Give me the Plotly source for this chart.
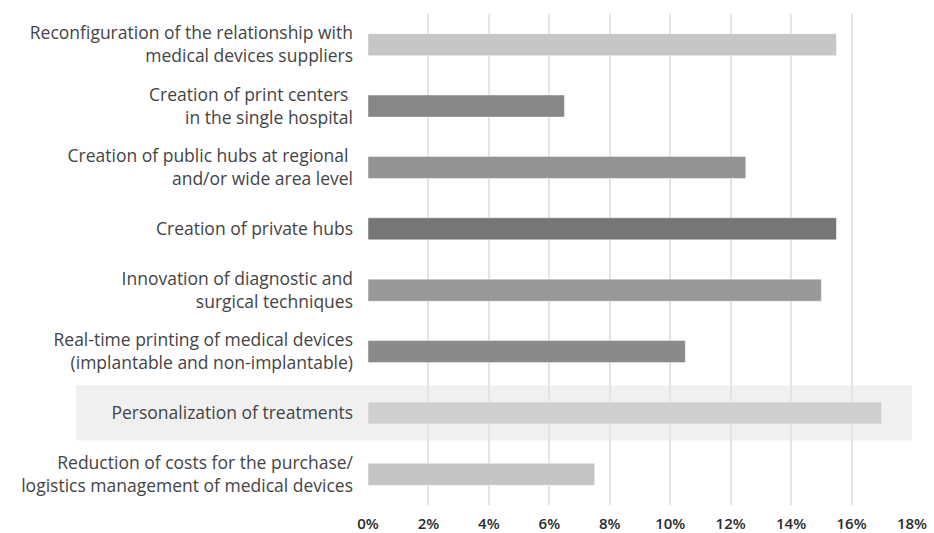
import plotly.graph_objects as go

categories = [
    "Reconfiguration of the relationship with<br>medical devices suppliers",
    "Creation of print centers <br>in the single hospital",
    "Creation of public hubs at regional <br>and/or wide area level",
    "Creation of private hubs",
    "Innovation of diagnostic and<br>surgical techniques",
    "Real-time printing of medical devices<br>(implantable and non-implantable)",
    "Personalization of treatments",
    "Reduction of costs for the purchase/<br>logistics management of medical devices",
]
values = [15.5, 6.5, 12.5, 15.5, 15.0, 10.5, 17.0, 7.5]
bar_colors = ["#c6c6c6", "#878787", "#939393", "#767676",
              "#999999", "#8a8a8a", "#cfcfcf", "#c4c4c4"]
highlight = "Personalization of treatments"
tick_vals = [0, 2, 4, 6, 8, 10, 12, 14, 16, 18]
tick_text = [f"{v}%" for v in tick_vals]

fig = go.Figure(go.Bar(
    x=values,
    y=categories,
    orientation="h",
    width=0.36,
    marker=dict(color=bar_colors, line=dict(color="rgba(255,255,255,0.45)", width=1)),
    hoverinfo="x+y",
))

# shaded band behind the highlighted category, extending under its label
hi = categories.index(highlight)
fig.add_shape(
    type="rect", xref="paper", yref="y",
    x0=-0.537, x1=1.0, y0=hi - 0.45, y1=hi + 0.45,
    fillcolor="#f0f0f0", line=dict(width=0), layer="below",
)

fig.update_layout(
    width=934, height=533,
    margin=dict(l=368, r=22, t=14, b=28),
    paper_bgcolor="white",
    plot_bgcolor="rgba(0,0,0,0)",
    font=dict(family="Open Sans", color="#444444", size=17.5),
    showlegend=False,
    bargap=0.64,
)
fig.update_xaxes(
    range=[0, 18], tickvals=tick_vals, ticktext=tick_text,
    showgrid=True, gridcolor="#e4e4e4", gridwidth=1.5,
    zeroline=False, showline=False, ticks="", ticklabelstandoff=8,
    tickfont=dict(family="Open Sans", size=15, color="#2a2a2a", weight=600),
    automargin=False, fixedrange=True,
)
fig.update_yaxes(
    autorange="reversed", showgrid=False, ticks="", ticklabelstandoff=14,
    tickfont=dict(family="Open Sans", size=17.5, color="#444444"),
    automargin=False, fixedrange=True,
)

fig.write_html("out.html")
